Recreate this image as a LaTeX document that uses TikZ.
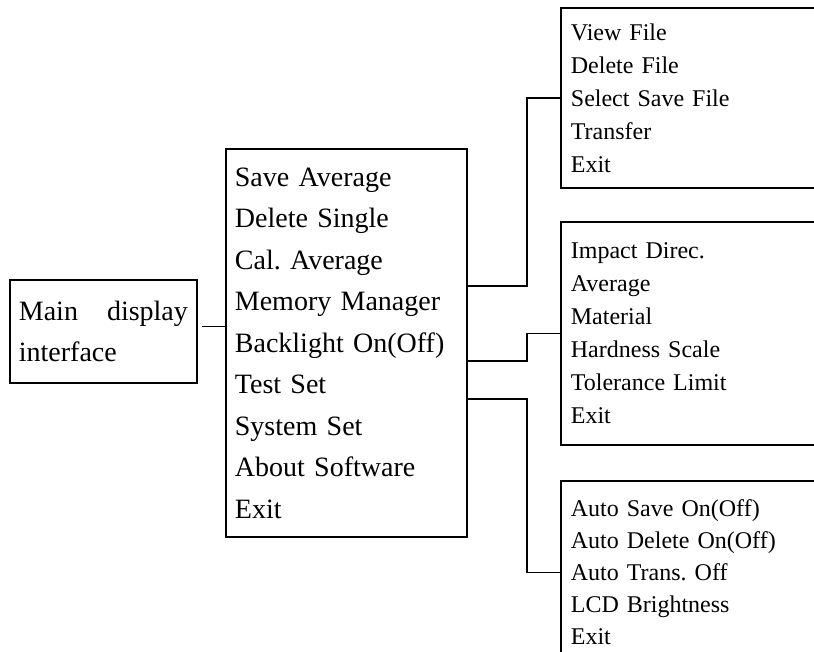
\documentclass[tikz,border=0pt]{standalone}
\usepackage{fontspec}
\setmainfont{Liberation Serif}
\frenchspacing

\begin{document}
\begin{tikzpicture}[x=1pt, y=-1pt, every node/.style={draw, line width=1.8pt, anchor=north west, align=left}, link/.style={line width=1.8pt},%
        bigbox/.style={inner xsep=9pt, font=\fontsize{28}{41.5}\selectfont}, subbox/.style={inner xsep=10pt, text width=280pt, font=\fontsize{24}{33}\selectfont}]
        \useasboundingbox (0,0) rectangle (814,651);
        \clip (0,0) rectangle (814,651);
        \node[bigbox, text width=169pt, minimum height=103pt, font=\fontsize{28}{41}\selectfont] (main) at (9,279) {Main\hfill display\\interface};
        \node[bigbox, text width=223pt, minimum height=388pt] (menu) at (225,148) {Save Average\\Delete Single\\Cal. Average\\Memory Manager\\Backlight On(Off)\\Test Set\\System Set\\About Software\\Exit};
        \node[subbox, minimum height=180pt] (file) at (560,7) {View File\\Delete File\\Select Save File\\Transfer\\Exit};
        \node[subbox, minimum height=223pt] (test) at (560,221) {Impact Direc.\\Average\\Material\\Hardness Scale\\Tolerance Limit\\Exit};
        \node[subbox, minimum height=183pt, font=\fontsize{24}{32}\selectfont] (sys) at (560,480) {Auto Save On(Off)\\Auto Delete On(Off)\\Auto Trans. Off\\LCD Brightness\\Exit};
        \draw[link, shorten <=4pt] ([yshift=5pt]main.east) -- ([yshift=5pt]main.east -| menu.west);
        \draw[link] ([yshift=-138pt]menu.north east) -- ++(59,0) |- (file.west);
        \draw[link] ([yshift=-213pt]menu.north east) -- ++(59,0) |- (test.west);
        \draw[link] ([yshift=-251pt]menu.north east) -- ++(59,0) |- (sys.west);
\end{tikzpicture}
\end{document}
